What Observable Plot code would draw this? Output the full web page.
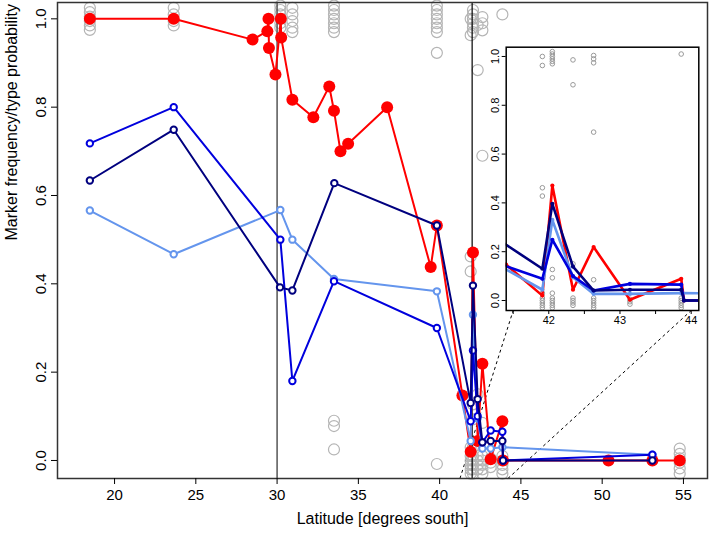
<!DOCTYPE html>
<html><head><meta charset="utf-8">
<script src="https://cdn.jsdelivr.net/npm/d3@7"></script>
<script src="https://cdn.jsdelivr.net/npm/@observablehq/plot@0.6"></script>
<style>
html,body{margin:0;padding:0;background:#fff;}
#chart{position:relative;width:709px;height:534px;overflow:hidden;}
#chart svg{position:absolute;}
</style></head><body><div id="chart"></div>
<script>
// ---- data ----
const redLat  = [18.48, 23.64, 28.49, 29.40, 29.47, 29.50, 29.90, 30.23, 30.25, 30.94, 32.23, 33.21, 33.50, 33.90, 34.37, 36.77, 39.45, 39.83, 41.40, 41.91, 42.05, 42.34, 42.63, 43.14, 43.86, 43.90, 50.39, 53.09, 54.77];
const redVal  = [1.0, 1.0, 0.953, 0.972, 1.0, 0.934, 0.874, 1.0, 0.958, 0.817, 0.777, 0.847, 0.792, 0.700, 0.717, 0.800, 0.438, 0.532, 0.147, 0.020, 0.471, 0.044, 0.219, 0.003, 0.089, 0.0, 0.0, 0.0, 0.0];

const lightLat = [18.48, 23.64, 30.20, 30.94, 33.50, 39.83, 41.91, 42.05, 42.34, 42.63, 43.14, 43.86, 53.09];
const lightVal = [0.566, 0.467, 0.567, 0.500, 0.411, 0.383, 0.044, 0.330, 0.095, 0.027, 0.027, 0.030, 0.013];

const blueLat = [18.48, 23.64, 30.20, 30.94, 33.50, 39.83, 41.91, 42.05, 42.34, 42.63, 43.14, 43.86, 43.90, 53.09];
const blueVal = [0.718, 0.800, 0.500, 0.180, 0.406, 0.300, 0.089, 0.249, 0.100, 0.041, 0.068, 0.065, 0.0, 0.013];

const navyLat = [18.48, 23.64, 30.18, 30.94, 33.52, 39.83, 41.91, 42.05, 42.34, 42.63, 43.14, 43.86, 43.90, 53.09];
const navyVal = [0.634, 0.749, 0.392, 0.385, 0.628, 0.532, 0.130, 0.396, 0.139, 0.041, 0.044, 0.044, 0.0, 0.0];

const graySites = [18.48, 23.64, 30.20, 30.94, 33.50, 39.83, 41.91, 42.05, 42.34, 42.63, 43.14, 43.86, 54.77];
const grayValues = [
  [1.025, 1.015, 1.005, 0.995, 0.985, 0.975],
  [1.025, 1.010, 0.995, 0.985],
  [1.030, 1.020, 1.010, 1.000, 0.990, 0.980],
  [1.025, 1.010, 0.995, 0.980, 0.970],
  [1.030, 1.020, 1.010, 1.000, 0.990, 0.980, 0.970, 0.090, 0.078, 0.025],
  [1.030, 1.020, 1.010, 1.000, 0.990, 0.980, 0.970, 0.923, -0.008],
  [1.000, 0.963, 0.462, 0.428, 0.030, 0.010, 0.000, -0.010, -0.020, -0.030],
  [1.020, 1.010, 1.000, 0.990, 0.980, 0.970, 0.127, 0.093, 0.030, 0.010, 0.000, -0.010, -0.020, -0.030],
  [0.986, 0.884, 0.150, 0.010, 0.000, -0.010, -0.020],
  [1.004, 0.990, 0.974, 0.690, 0.085, 0.010, 0.000, -0.010, -0.020, -0.030],
  [0.005, -0.005, -0.015],
  [1.010, 0.010, 0.000, -0.010, -0.020, -0.030],
  [0.027, 0.015, 0.005, -0.005, -0.018, -0.030]
];

const seriesNames  = ["red", "light", "blue", "navy"];
const seriesColors = {red: "#ff0000", light: "#6495ed", blue: "#0000dd", navy: "#00007f"};
const xTicks = [20, 25, 30, 35, 40, 45, 50, 55];
const yTicks = [0, 0.2, 0.4, 0.6, 0.8, 1.0];
const insetXTicks = [41.5, 42, 42.5, 43, 43.5, 44];
const boundaryLines = [30, 42];
const zoomFrom = [41.25, 44.2];   // main x range that is magnified
const zoomTo   = [41.5, 44.0];    // corresponding inset x positions

// ---- tidy tables ----
const seriesData = {
  red: redLat.map((x, i) => ({x, y: redVal[i]})),
  light: lightLat.map((x, i) => ({x, y: lightVal[i]})),
  blue: blueLat.map((x, i) => ({x, y: blueVal[i]})),
  navy: navyLat.map((x, i) => ({x, y: navyVal[i]}))
};
const gray = graySites.flatMap((x, i) => grayValues[i].map(y => ({x, y})));

// ---- layout ----
const W = 709, H = 534;
const M = {left: 57, right: 2, top: 2, bottom: 56};
const xDomain = [16.49, 56.48], yDomain = [-0.0408, 1.037];
const IW = 239, IH = 300, IX = 470, IY = 30;
const IM = {left: 35.7, right: 10.7, top: 16.7, bottom: 20};
const ixDomain = [41.402, 44.107], iyDomain = [-0.041, 1.038];
const FONT = "'Liberation Sans', Arial, Helvetica, sans-serif";

const mainX = d3.scaleLinear(xDomain, [M.left, W - M.right]);
const mainY = d3.scaleLinear(yDomain, [H - M.bottom, M.top]);
const insX = d3.scaleLinear(ixDomain, [IM.left, IW - IM.right]);
const insY = d3.scaleLinear(iyDomain, [IH - IM.bottom, IM.top]);
const links = zoomFrom.map((x1, i) => ({
  x1, y1: yDomain[0],
  x2: mainX.invert(IX + insX(zoomTo[i])),
  y2: mainY.invert(IY + insY(iyDomain[0]))
}));

// ---- main plot ----
const mainMarks = [
  Plot.link(links, {x1: "x1", y1: "y1", x2: "x2", y2: "y2", stroke: "#000", strokeWidth: 1, strokeDasharray: "3,3"}),
  Plot.dot(gray, {x: "x", y: "y", r: 5.5, stroke: "#b5b5b5", strokeWidth: 1.2, fill: "none"}),
  Plot.ruleX([boundaryLines[0]], {stroke: "#555", strokeWidth: 1.5}),
  Plot.ruleX([boundaryLines[1]], {stroke: "#000", strokeWidth: 1.2})
];
for (const s of seriesNames) {
  mainMarks.push(Plot.line(seriesData[s], {x: "x", y: "y", stroke: seriesColors[s], strokeWidth: 2}));
  if (s === "red") {
    mainMarks.push(Plot.dot(seriesData[s], {x: "x", y: "y", r: 6, fill: seriesColors[s], stroke: "none"}));
  } else {
    mainMarks.push(Plot.dot(seriesData[s], {x: "x", y: "y", r: 3.2, fill: "white", stroke: seriesColors[s], strokeWidth: 2}));
  }
}
mainMarks.push(
  Plot.frame({stroke: "#333", strokeWidth: 1.5}),
  Plot.axisX({ticks: xTicks, tickSize: 6, tickPadding: 5, label: null, fontSize: 15}),
  Plot.axisY({ticks: yTicks, tickFormat: d3.format(".1f"), tickRotate: -90, tickSize: 6, tickPadding: 6, label: null, fontSize: 15}),
  Plot.text(["Latitude [degrees south]"], {frameAnchor: "bottom", dy: 45, fontSize: 16}),
  Plot.text(["Marker frequency/type probability"], {frameAnchor: "left", dx: -46, rotate: -90, fontSize: 16})
);

const mainPlot = Plot.plot({
  width: W, height: H,
  marginLeft: M.left, marginRight: M.right, marginTop: M.top, marginBottom: M.bottom,
  x: {domain: xDomain},
  y: {domain: yDomain},
  style: {fontFamily: FONT, fontSize: "15px", background: "white", color: "#000"},
  marks: mainMarks
});
mainPlot.style.left = "0px"; mainPlot.style.top = "0px";

// ---- inset ----
const insetMarks = [
  Plot.frame({fill: "white", stroke: "none"}),
  Plot.dot(gray, {x: "x", y: "y", r: 2.3, stroke: "#9a9a9a", strokeWidth: 1, fill: "none", clip: true})
];
for (const s of seriesNames) {
  insetMarks.push(Plot.line(seriesData[s], {x: "x", y: "y", stroke: seriesColors[s], strokeWidth: 2.6, clip: true}));
  insetMarks.push(Plot.dot(seriesData[s], {x: "x", y: "y", r: 2.1, fill: seriesColors[s], stroke: "none", clip: true}));
}
insetMarks.push(
  Plot.frame({stroke: "#000", strokeWidth: 1.5}),
  Plot.axisX({ticks: insetXTicks, tickFormat: d => Number.isInteger(d) ? String(d) : "", tickSize: 4, tickPadding: 2, label: null, fontSize: 11}),
  Plot.axisY({ticks: yTicks, tickFormat: d3.format(".1f"), tickRotate: -90, tickSize: 4, tickPadding: 3, label: null, fontSize: 11})
);
const insetPlot = Plot.plot({
  width: IW, height: IH,
  marginLeft: IM.left, marginRight: IM.right, marginTop: IM.top, marginBottom: IM.bottom,
  x: {domain: ixDomain},
  y: {domain: iyDomain},
  style: {fontFamily: FONT, fontSize: "11px", background: "transparent", color: "#000", maxWidth: "none"},
  marks: insetMarks
});
insetPlot.style.left = IX + "px"; insetPlot.style.top = IY + "px";

const chart = document.getElementById("chart");
chart.appendChild(mainPlot);
chart.appendChild(insetPlot);
</script>
</body></html>
